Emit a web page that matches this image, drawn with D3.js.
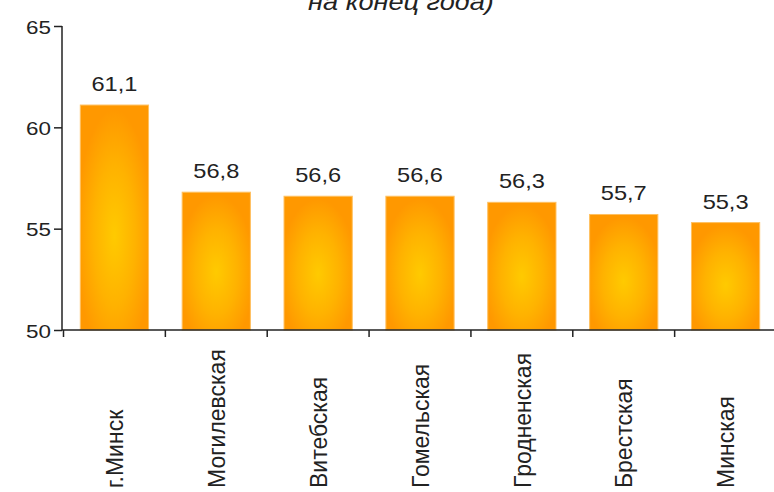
<!DOCTYPE html>
<html>
<head>
<meta charset="utf-8">
<script src="https://cdn.jsdelivr.net/npm/d3@7"></script>
<style>
  body { margin: 0; background: #fff; }
  text { font-family: "Liberation Sans", Arial, sans-serif; fill: #222; }
</style>
</head>
<body>
<div id="chart"></div>
<script>
// Data
var regions = ["г.Минск", "Могилевская", "Витебская", "Гомельская", "Гродненская", "Брестская", "Минская"];
var values = [61.1, 56.8, 56.6, 56.6, 56.3, 55.7, 55.3];
var yTicks = [50, 55, 60, 65];
var titleTail = "на конец года)";

var svgWidth = 774;
var svgHeight = 492;
// text in the picture is a little wider than it is tall
var stretch = 1.18;

var svg = d3.select("#chart")
  .append("svg")
  .attr("width", svgWidth)
  .attr("height", svgHeight);

// bar fill: yellow centre fading to orange edges
var grad = svg.append("defs").append("radialGradient")
  .attr("id", "barFill")
  .attr("cx", 0.5).attr("cy", 0.58).attr("r", 0.56);
grad.append("stop").attr("offset", "0%").attr("stop-color", "#ffca00");
grad.append("stop").attr("offset", "55%").attr("stop-color", "#ffb200");
grad.append("stop").attr("offset", "100%").attr("stop-color", "#ff9800");

var axisX = 62;
var x = d3.scaleBand()
  .domain(regions)
  .range([63.5, 776.5]);

var y = d3.scaleLinear()
  .domain([50, 65])
  .range([330, 26]);

var barWidth = x.bandwidth() * 0.67;

// title (only its last line is visible)
svg.append("text")
  .attr("transform", `translate(401, 10) scale(${stretch},1)`)
  .attr("text-anchor", "middle")
  .attr("font-size", "23px")
  .attr("font-style", "italic")
  .text(titleTail);

// bars
svg.selectAll("rect.bar")
  .data(values)
  .enter()
  .append("rect")
  .attr("class", "bar")
  .attr("x", (d, i) => x(regions[i]) + (x.bandwidth() - barWidth) / 2)
  .attr("y", d => y(d))
  .attr("width", barWidth)
  .attr("height", d => y(50) - y(d))
  .attr("fill", "url(#barFill)")
  .attr("stroke", "#ffc060")
  .attr("stroke-width", 1);

// value labels
svg.selectAll("text.val")
  .data(values)
  .enter()
  .append("text")
  .attr("class", "val")
  .attr("transform", (d, i) => `translate(${x(regions[i]) + x.bandwidth() / 2}, ${y(d) - 14}) scale(${stretch},1)`)
  .attr("text-anchor", "middle")
  .attr("font-size", "20px")
  .text(d => d3.format(".1f")(d).replace(".", ","));

// y axis
var leftAxis = d3.axisLeft(y).tickValues(yTicks).tickSize(8).tickPadding(0).tickFormat(d3.format("d"));
var gy = svg.append("g")
  .attr("transform", `translate(${axisX}, 0)`)
  .call(leftAxis);
gy.select(".domain").remove();
gy.append("line")
  .attr("y1", y(65)).attr("y2", y(50))
  .attr("stroke", "#222").attr("stroke-width", 1.5);
gy.selectAll(".tick line").attr("stroke", "#222").attr("stroke-width", 1.5);
gy.selectAll(".tick text")
  .attr("x", null)
  .attr("dy", null)
  .attr("transform", `translate(-11, 7) scale(${stretch},1)`)
  .attr("font-size", "19px")
  .attr("font-family", "Liberation Sans, Arial, sans-serif")
  .attr("fill", "#222");

// x axis
var gx = svg.append("g");
gx.append("line")
  .attr("x1", axisX).attr("x2", svgWidth)
  .attr("y1", y(50)).attr("y2", y(50))
  .attr("stroke", "#222").attr("stroke-width", 1.5);
gx.selectAll("line.tk")
  .data(regions)
  .enter()
  .append("line")
  .attr("class", "tk")
  .attr("x1", d => x(d)).attr("x2", d => x(d))
  .attr("y1", y(50)).attr("y2", y(50) + 7)
  .attr("stroke", "#222").attr("stroke-width", 1.5);

// rotated category labels
gx.selectAll("text.cat")
  .data(regions)
  .enter()
  .append("text")
  .attr("class", "cat")
  .attr("transform", d => `translate(${x(d) + x.bandwidth() / 2}, 488) scale(1.08,1) rotate(-90)`)
  .attr("dy", "0.35em")
  .attr("text-anchor", "start")
  .attr("font-size", "23px")
  .text(d => d);
</script>
</body>
</html>
